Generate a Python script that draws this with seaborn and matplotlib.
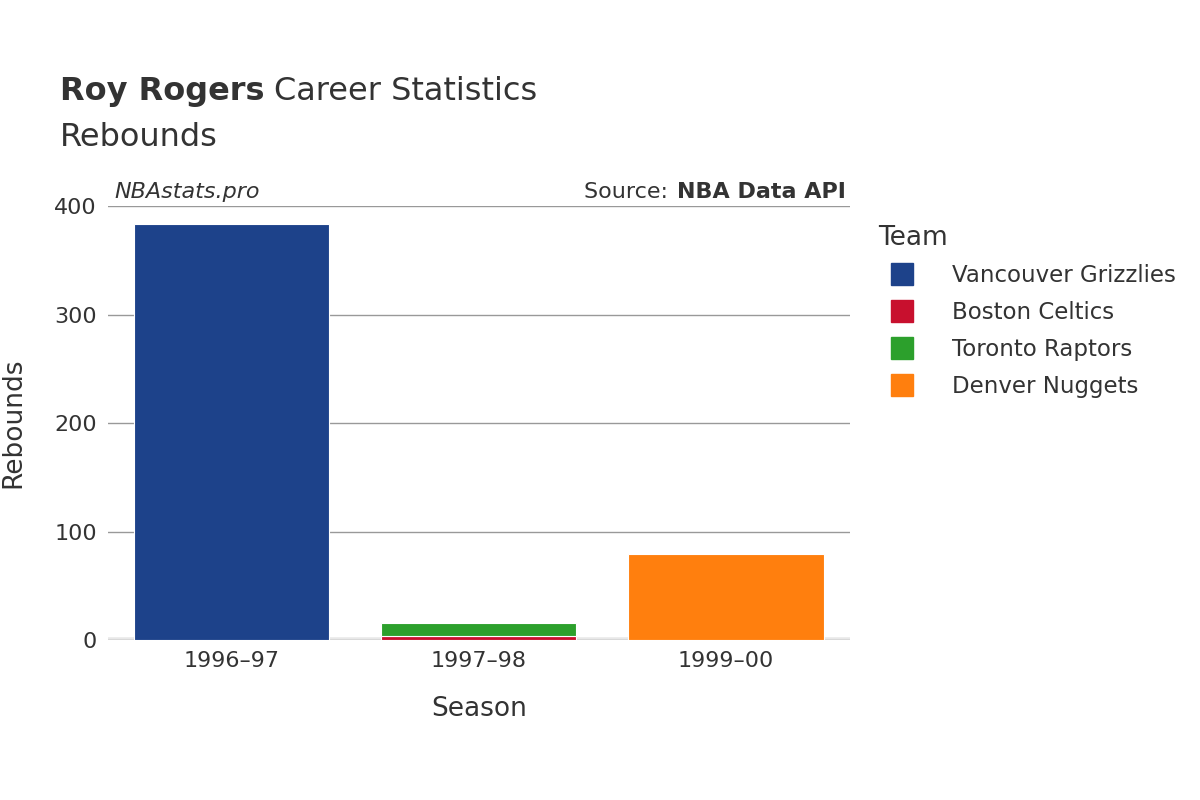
import matplotlib
matplotlib.use("Agg")
import matplotlib.pyplot as plt
import seaborn as sns
import pandas as pd
from matplotlib.lines import Line2D

seasons = ["1996–97", "1997–98", "1997–98", "1999–00"]
teams = ["Vancouver Grizzlies", "Boston Celtics", "Toronto Raptors", "Denver Nuggets"]
rebounds = [384, 4, 12, 79]
colors = {"Vancouver Grizzlies": "#1d428a", "Boston Celtics": "#c8102e",
          "Toronto Raptors": "#2ca02c", "Denver Nuggets": "#ff7f0e"}
season_order = ["1996–97", "1997–98", "1999–00"]

df = pd.DataFrame({"Season": seasons, "Team": teams, "Rebounds": rebounds})
df["Bottom"] = df.groupby("Season")["Rebounds"].cumsum() - df["Rebounds"]

plt.rcParams["font.family"] = "DejaVu Sans"
fig = plt.figure(figsize=(12, 8), dpi=100)
ax = fig.add_axes([0.09, 0.2, 0.618, 0.542])
sns.set_style("white")
for _, r in df.iterrows():
    sub = pd.DataFrame({"Season": [r.Season], "Rebounds": [r.Rebounds]})
    sns.barplot(data=sub, x="Season", y="Rebounds", order=season_order,
                color=colors[r.Team], ax=ax, width=0.79, bottom=r.Bottom,
                saturation=1, edgecolor="white", linewidth=0.8)

ax.set_ylim(0, 400)
ax.set_xlim(-0.5, 2.5)
ax.set_yticks([0, 100, 200, 300, 400])
ax.grid(axis="y", color="#999999", linewidth=1)
ax.set_axisbelow(True)
for s in ax.spines.values():
    s.set_visible(False)
ax.axhline(0, color="#e8e8e8", linewidth=4, zorder=0)
ax.tick_params(axis="both", length=0, labelsize=16, colors="#333333", pad=8)
ax.set_xlabel("Season", fontsize=19, color="#333333", labelpad=18)
ax.set_ylabel("Rebounds", fontsize=19, color="#333333", labelpad=20)

r = fig.canvas.get_renderer()
t1 = fig.text(0.05, 0.875, "Roy Rogers", fontsize=23, fontweight="bold", color="#333333")
bb = t1.get_window_extent(r)
fig.text((bb.x1 + 10) / 1200, 0.875, "Career Statistics", fontsize=23, color="#333333")
fig.text(0.05, 0.818, "Rebounds", fontsize=23, color="#333333")
fig.text(0.095, 0.752, "NBAstats.pro", fontsize=16, style="italic", color="#333333")
t2 = fig.text(0.705, 0.752, "NBA Data API", fontsize=16, fontweight="bold", color="#333333", ha="right")
bb2 = t2.get_window_extent(r)
fig.text((bb2.x0 - 2) / 1200, 0.752, "Source: ", fontsize=16, color="#333333", ha="right")

handles = [Line2D([0], [0], marker="s", linestyle="", markersize=16,
                  markerfacecolor=colors[t], markeredgecolor=colors[t]) for t in teams]
leg = fig.legend(handles, teams, loc="upper left", bbox_to_anchor=(0.715, 0.745),
                 frameon=False, fontsize=16.5, title="Team", title_fontsize=19,
                 labelspacing=0.6, handletextpad=1.2, alignment="left")
for t in leg.get_texts():
    t.set_color("#333333")
leg.get_title().set_color("#333333")
fig.savefig("out.png", dpi=100)
